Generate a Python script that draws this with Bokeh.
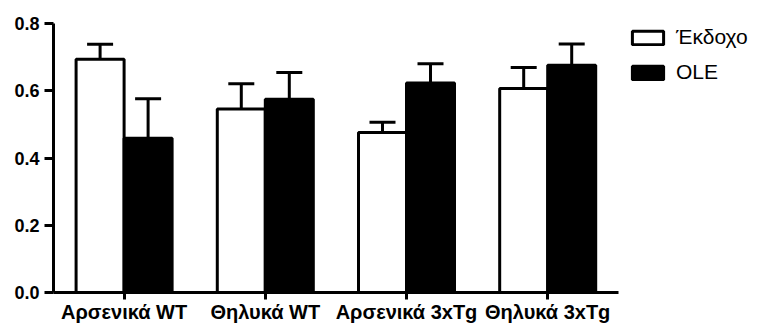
from bokeh.plotting import figure
from bokeh.models import (ColumnDataSource, Range1d, Legend, LegendItem,
                          Whisker, TeeHead, NumeralTickFormatter, FixedTicker)
from bokeh.transform import dodge
from bokeh.embed import file_html
from bokeh.resources import INLINE

groups = ["Αρσενικά WT", "Θηλυκά WT", "Αρσενικά 3xTg", "Θηλυκά 3xTg"]
series_names = ["Έκδοχο", "OLE"]
vehicle = [0.694, 0.546, 0.476, 0.607]
vehicle_err = [0.044, 0.075, 0.030, 0.062]
ole = [0.459, 0.575, 0.623, 0.676]
ole_err = [0.117, 0.079, 0.057, 0.063]
y_ticks = [0.0, 0.2, 0.4, 0.6, 0.8]

# group slot centres (one unit per group)
pos = [i + 0.5 for i in range(len(groups))]

src = ColumnDataSource(dict(
    x=pos,
    veh=vehicle,
    veh_up=[v + e for v, e in zip(vehicle, vehicle_err)],
    ole=ole,
    ole_up=[v + e for v, e in zip(ole, ole_err)],
))

p = figure(width=759, height=325, output_backend="svg", toolbar_location=None,
           x_range=Range1d(0, len(groups) + 1.0),
           y_range=Range1d(0, 0.8),
           min_border_left=53, min_border_top=23, min_border_right=0,
           min_border_bottom=0)
p.outline_line_color = None
p.xgrid.visible = False
p.ygrid.visible = False
p.background_fill_color = "white"
p.border_fill_color = "white"

bw = 0.34
r_veh = p.vbar(x=dodge("x", -bw / 2), top="veh", width=bw, source=src,
               fill_color="white", line_color="black", line_width=3)
r_ole = p.vbar(x=dodge("x", bw / 2), top="ole", width=bw, source=src,
               fill_color="black", line_color="black", line_width=3)

for off, lo, up in ((-bw / 2, "veh", "veh_up"), (bw / 2, "ole", "ole_up")):
    w = Whisker(base=dodge("x", off), lower=lo, upper=up, source=src,
                line_width=3, line_color="black",
                upper_head=TeeHead(size=26, line_width=3, line_color="black"),
                lower_head=None, level="overlay")
    p.add_layout(w)

# axes
for ax in (p.xaxis, p.yaxis):
    ax.axis_line_width = 3
    ax.axis_line_color = "black"
    ax.major_tick_line_width = 3
    ax.major_tick_line_color = "black"
    ax.minor_tick_line_color = None
    ax.major_tick_in = 0
    ax.major_label_text_font = "Liberation Sans"
    ax.major_label_text_font_style = "bold"
    ax.major_label_text_color = "black"

p.xaxis.bounds = (0, len(groups))
p.xaxis.ticker = FixedTicker(ticks=pos)
p.xaxis.major_label_overrides = {x: g for x, g in zip(pos, groups)}
p.xaxis.major_tick_out = 7
p.xaxis.major_label_standoff = 1
p.xaxis.major_label_text_font_size = "20px"

p.yaxis.major_tick_out = 9
p.yaxis.major_label_standoff = 5
p.yaxis.major_label_text_font_size = "18px"
p.yaxis.ticker = FixedTicker(ticks=y_ticks)
p.yaxis.formatter = NumeralTickFormatter(format="0.0")

legend = Legend(items=[LegendItem(label=series_names[0], renderers=[r_veh]),
                       LegendItem(label=series_names[1], renderers=[r_ole])],
                location=(575, 208), orientation="vertical",
                glyph_width=39, glyph_height=17, label_standoff=9, spacing=11,
                padding=2, margin=0, border_line_color=None, background_fill_alpha=0,
                label_text_font="Liberation Sans", label_text_font_size="21px",
                label_text_color="black")
p.add_layout(legend, "center")

open("out.html", "w").write(file_html(p, INLINE))
